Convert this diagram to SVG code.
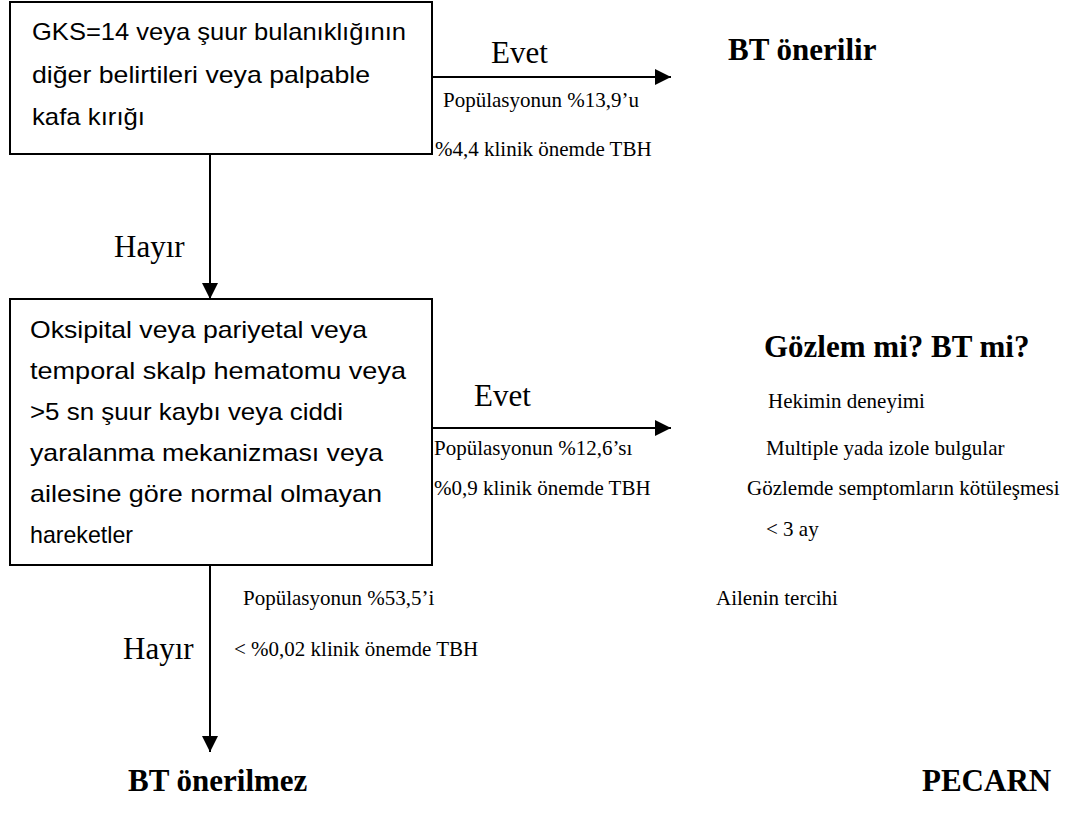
<svg xmlns="http://www.w3.org/2000/svg" width="1076" height="815" viewBox="0 0 1076 815">
<style>
.box{fill:#fff;stroke:#000;stroke-width:2}
.bt{font-family:"Liberation Sans",Arial,sans-serif;font-size:24px;fill:#000}
.big{font-family:"Liberation Serif","Times New Roman",serif;font-size:31px;fill:#000}
.bold{font-family:"Liberation Serif","Times New Roman",serif;font-size:31px;font-weight:bold;fill:#000}
.sm{font-family:"Liberation Serif","Times New Roman",serif;font-size:21px;fill:#000}
.edge{stroke:#000;stroke-width:2;fill:none}
</style>
<defs>
<marker id="ah" markerUnits="userSpaceOnUse" markerWidth="16" markerHeight="16" refX="16" refY="8" orient="auto">
<path d="M0,0 L16,8 L0,16 Z" fill="#000"/>
</marker>
</defs>
<rect width="1076" height="815" fill="#fff"/>
<g id="connectors">
<line class="edge" x1="432" y1="77" x2="671" y2="77" marker-end="url(#ah)"/>
<line class="edge" x1="210" y1="154" x2="210" y2="299" marker-end="url(#ah)"/>
<line class="edge" x1="432" y1="428" x2="671" y2="428" marker-end="url(#ah)"/>
<line class="edge" x1="210" y1="565" x2="210" y2="752" marker-end="url(#ah)"/>
</g>
<g id="node-gks">
<rect class="box" x="10" y="2" width="422" height="152"/>
<text class="bt" x="32" y="40" textLength="374" lengthAdjust="spacingAndGlyphs">GKS=14 veya şuur bulanıklığının</text>
<text class="bt" x="32" y="83" textLength="338" lengthAdjust="spacingAndGlyphs">diğer belirtileri veya palpable</text>
<text class="bt" x="32" y="125" textLength="113" lengthAdjust="spacingAndGlyphs">kafa kırığı</text>
</g>
<g id="label-evet1">
<text class="big" x="491" y="63">Evet</text>
<text class="sm" x="443" y="107">Popülasyonun %13,9’u</text>
<text class="sm" x="435" y="156">%4,4 klinik önemde TBH</text>
</g>
<g id="node-bt-onerilir">
<text class="bold" x="728" y="60">BT önerilir</text>
</g>
<g id="label-hayir1">
<text class="big" x="114" y="257">Hayır</text>
</g>
<g id="node-oksipital">
<rect class="box" x="10" y="299" width="422" height="266"/>
<text class="bt" x="30" y="338" textLength="337" lengthAdjust="spacingAndGlyphs">Oksipital veya pariyetal veya</text>
<text class="bt" x="30" y="379" textLength="376" lengthAdjust="spacingAndGlyphs">temporal skalp hematomu veya</text>
<text class="bt" x="30" y="420" textLength="313" lengthAdjust="spacingAndGlyphs">&gt;5 sn şuur kaybı veya ciddi</text>
<text class="bt" x="30" y="461" textLength="353" lengthAdjust="spacingAndGlyphs">yaralanma mekanizması veya</text>
<text class="bt" x="30" y="502" textLength="352" lengthAdjust="spacingAndGlyphs">ailesine göre normal olmayan</text>
<text class="bt" x="30" y="543" textLength="103" lengthAdjust="spacingAndGlyphs">hareketler</text>
</g>
<g id="label-evet2">
<text class="big" x="474" y="406">Evet</text>
<text class="sm" x="434" y="455">Popülasyonun %12,6’sı</text>
<text class="sm" x="434" y="495">%0,9 klinik önemde TBH</text>
</g>
<g id="node-gozlem">
<text class="bold" x="764" y="357">Gözlem mi? BT mi?</text>
<text class="sm" x="768" y="408">Hekimin deneyimi</text>
<text class="sm" x="766" y="455">Multiple yada izole bulgular</text>
<text class="sm" x="747" y="495">Gözlemde semptomların kötüleşmesi</text>
<text class="sm" x="766" y="536">&lt; 3 ay</text>
<text class="sm" x="716" y="605">Ailenin tercihi</text>
</g>
<g id="label-hayir2">
<text class="big" x="123" y="659">Hayır</text>
<text class="sm" x="243" y="605">Popülasyonun %53,5’i</text>
<text class="sm" x="234" y="656">&lt; %0,02 klinik önemde TBH</text>
</g>
<g id="node-bt-onerilmez">
<text class="bold" x="128" y="791">BT önerilmez</text>
</g>
<g id="node-pecarn">
<text class="bold" x="922" y="791">PECARN</text>
</g>
</svg>
